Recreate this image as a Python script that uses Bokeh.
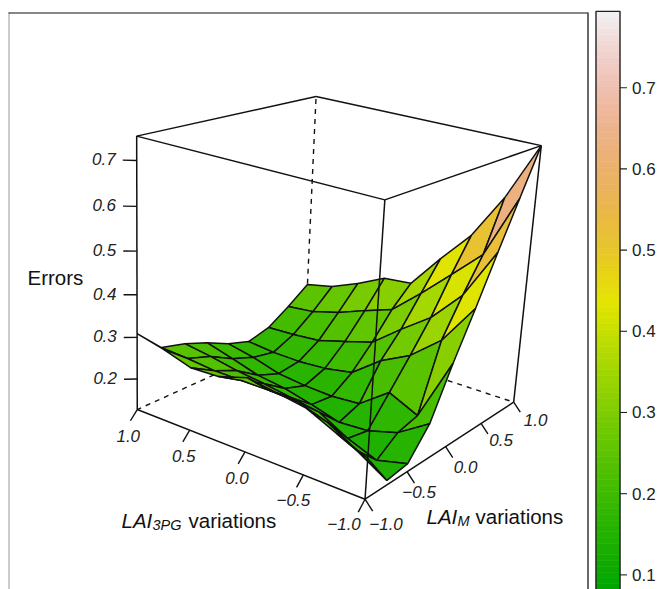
import colorsys
import numpy as np
from bokeh.core.properties import value
from bokeh.embed import file_html
from bokeh.models import Range1d
from bokeh.plotting import figure
from bokeh.resources import INLINE

# LAI3PG grid (columns) and LAIM grid (rows)
lai_3pg = [1, .75, .5, .25, 0, -.25, -.5, -.75, -1]
lai_m = [1, .75, .5, .25, 0, -.25, -.5, -.75, -1]
# Errors, one list per LAIM value
err_m_p100 = [.262, .277, .305, .339, .346, .429, .506, .615, .752]
err_m_p075 = [.223, .230, .249, .275, .299, .361, .428, .496, .646]
err_m_p050 = [.188, .191, .197, .217, .237, .292, .343, .418, .539]
err_m_p025 = [.173, .167, .166, .171, .184, .237, .273, .332, .429]
err_m_000 = [.191, .178, .159, .152, .149, .155, .207, .175, .324]
err_m_n025 = [.217, .199, .180, .171, .155, .136, .141, .162, .209]
err_m_n050 = [.238, .229, .217, .209, .199, .188, .151, .125, .144]
err_m_n075 = [.252, .248, .242, .242, .242, .239, .217, .178, .136]
err_m_n100 = [.309, .294, .274, .277, .298, .288, .277, .246, .217]
errors = [err_m_p100, err_m_p075, err_m_p050, err_m_p025, err_m_000,
          err_m_n025, err_m_n050, err_m_n075, err_m_n100]

x_ticks = [1.0, 0.5, 0.0, -0.5, -1.0]
x_tick_labels = ["1.0", "0.5", "0.0", "\u22120.5", "\u22121.0"]
y_ticks = [-1.0, -0.5, 0.0, 0.5, 1.0]
y_tick_labels = ["\u22121.0", "\u22120.5", "0.0", "0.5", "1.0"]
z_ticks = [0.2, 0.3, 0.4, 0.5, 0.6, 0.7]
z_tick_labels = ["0.2", "0.3", "0.4", "0.5", "0.6", "0.7"]
key_ticks = [0.1, 0.2, 0.3, 0.4, 0.5, 0.6, 0.7]
key_tick_labels = ["0.1", "0.2", "0.3", "0.4", "0.5", "0.6", "0.7"]
key_low, key_high = 0.082, 0.794

# camera of the 3-D view
VIEW = np.array([[-91.029363, 104.331516, -16.248539, 328.100416],
                 [-18.472839, -9.886557, -432.094888, 453.543521],
                 [0.04888, 0.079042, -0.112754, 1.0]])


def project(x, y, z):
    q = VIEW @ np.array([x, y, z, 1.0])
    return float(q[0] / q[2]), float(q[1] / q[2])


def depth(x, y, z):
    return float((VIEW @ np.array([x, y, z, 1.0]))[2])


def terrain(t):
    t = min(max(t, 0.0), 1.0)
    if t < 0.5:
        u = t * 2
        h, s, v = 4 / 12 + (2 / 12 - 4 / 12) * u, 1.0, 0.65 + 0.25 * u
    else:
        u = (t - 0.5) * 2
        h, s, v = 2 / 12 * (1 - u), 1 - u, 0.9 + 0.05 * u
    r, g, b = colorsys.hsv_to_rgb(h, s, v)
    return "#%02x%02x%02x" % (round(r * 255), round(g * 255), round(b * 255))


zlo = min(min(r) for r in errors)
zhi = max(max(r) for r in errors)

FONT = value("Liberation Sans")
p = figure(width=659, height=589, x_range=Range1d(0, 659), y_range=Range1d(589, 0),
           x_axis_type=None, y_axis_type=None, toolbar_location=None,
           output_backend="svg", min_border=0, outline_line_color=None)
p.grid.visible = False
# value scale of the colour key, 81.2 px for 0.1
p.extra_y_ranges = {"key": Range1d(0.082, 0.082 + 589 / 812.0)}

# page frame of the panel
p.multi_line(xs=[[8.5, 8.5], [8, 587.5], [587.5, 587.5]], ys=[[589, 12], [12.5, 12.5], [12, 589]],
             line_color=["#9a9a9a", "#111111", "#444444"], line_width=[1, 1.2, 1.6])


def edge(a, b):
    pa, pb = project(*a), project(*b)
    return [pa[0], pb[0]], [pa[1], pb[1]]


def draw_edges(pairs, **kw):
    e = [edge(a, b) for a, b in pairs]
    p.multi_line(xs=[v[0] for v in e], ys=[v[1] for v in e], line_color="#111111", **kw)


# hidden edges of the box
draw_edges([((1, 1, zlo), (1, 1, zhi)), ((1, 1, zlo), (1, -1, zlo)), ((1, 1, zlo), (-1, 1, zlo))],
           line_dash="5 5", line_width=1.4)

# surface, far cells first
cells = []
for j in range(len(lai_m) - 1):
    for i in range(len(lai_3pg) - 1):
        corners = [(lai_3pg[a], lai_m[b], errors[b][a])
                   for a, b in ((i, j), (i + 1, j), (i + 1, j + 1), (i, j + 1))]
        cells.append((np.mean([depth(*c) for c in corners]), corners))
cells.sort(key=lambda c: -c[0])
xs, ys, fill = [], [], []
for _, corners in cells:
    pts = [project(*c) for c in corners]
    xs.append([q[0] for q in pts])
    ys.append([q[1] for q in pts])
    mean = sum(c[2] for c in corners) / 4
    fill.append(terrain((mean - key_low) / (key_high - key_low)))
p.patches(xs, ys, fill_color=fill, line_color="#111111", line_width=1.5)

# visible edges of the box
draw_edges([((1, -1, zlo), (-1, -1, zlo)), ((-1, -1, zlo), (-1, 1, zlo)),
            ((1, -1, zlo), (1, -1, zhi)), ((-1, 1, zlo), (-1, 1, zhi)), ((-1, -1, zlo), (-1, -1, zhi)),
            ((1, -1, zhi), (-1, -1, zhi)), ((-1, -1, zhi), (-1, 1, zhi)),
            ((-1, 1, zhi), (1, 1, zhi)), ((1, 1, zhi), (1, -1, zhi))], line_width=1.5)

# ticks
draw_edges([((x, -1, zlo), (x, -1.07, zlo - 0.02)) for x in x_ticks]
           + [((-1, y, zlo), (-1.065, y, zlo - 0.02)) for y in y_ticks]
           + [((1, -1, z), (1.065, -1.065, z)) for z in z_ticks], line_width=1.4)

TICK_STYLE = dict(text_font=FONT, text_font_style="italic", text_font_size="17px",
                  text_color="#222222", text_baseline="middle")
bx = [project(x, -1, zlo) for x in x_ticks]
p.text([q[0] for q in bx], [q[1] for q in bx], text=x_tick_labels, text_align="center",
       x_offset=[-9, -6, -8, -10, -21], y_offset=[26, 26, 26, 25, 25], **TICK_STYLE)
by = [project(-1, y, zlo) for y in y_ticks]
p.text([q[0] for q in by], [q[1] for q in by], text=y_tick_labels, text_align="center",
       x_offset=[21, 12, 20, 20, 22], y_offset=[25, 20, 20, 17, 18], **TICK_STYLE)
bz = [project(1.065, -1.065, z) for z in z_ticks]
p.text([q[0] for q in bz], [q[1] for q in bz], text=z_tick_labels, text_align="right",
       x_offset=-7, y_offset=-1, **TICK_STYLE)

# axis titles
BIG = dict(text_font=FONT, text_font_size="20.5px", text_color="#111111", text_baseline="alphabetic")
SMALL = dict(text_font=FONT, text_font_size="14.5px", text_color="#111111", text_baseline="alphabetic",
             text_font_style="italic")
p.text([27], [277], text=["Errors"], **BIG)
p.text([121], [520], text=["LAI"], text_font_style="italic", **BIG)
p.text([152], [524], text=["3PG"], **SMALL)
p.text([188], [520], text=["variations"], **BIG)
p.text([426], [516], text=["LAI"], text_font_style="italic", **BIG)
p.text([457], [520], text=["M"], **SMALL)
p.text([475], [516], text=["variations"], **BIG)

# colour key
KEY_L, KEY_R = 595.5, 619.5
edges = np.linspace(key_low, key_high, 101)
band_colors = [terrain((i + 0.5) / 100) for i in range(100)]
p.quad(left=KEY_L, right=KEY_R, bottom=edges[:-1], top=edges[1:], y_range_name="key",
       fill_color=band_colors, line_color=band_colors, line_width=0.6)
p.multi_line(xs=[[KEY_L, KEY_L, KEY_R, KEY_R]], ys=[[key_low, key_high, key_high, key_low]],
             y_range_name="key", line_color="#222222", line_width=1.4)
p.segment(x0=KEY_R, x1=KEY_R + 7, y0=key_ticks, y1=key_ticks, y_range_name="key",
          line_color="#222222", line_width=1.1)
p.text(x=KEY_R + 12, y=key_ticks, text=key_tick_labels, y_range_name="key", text_font=FONT,
       text_font_size="17px", text_color="#222222", text_baseline="middle", text_align="left")

open("out.html", "w").write(file_html(p, INLINE))
